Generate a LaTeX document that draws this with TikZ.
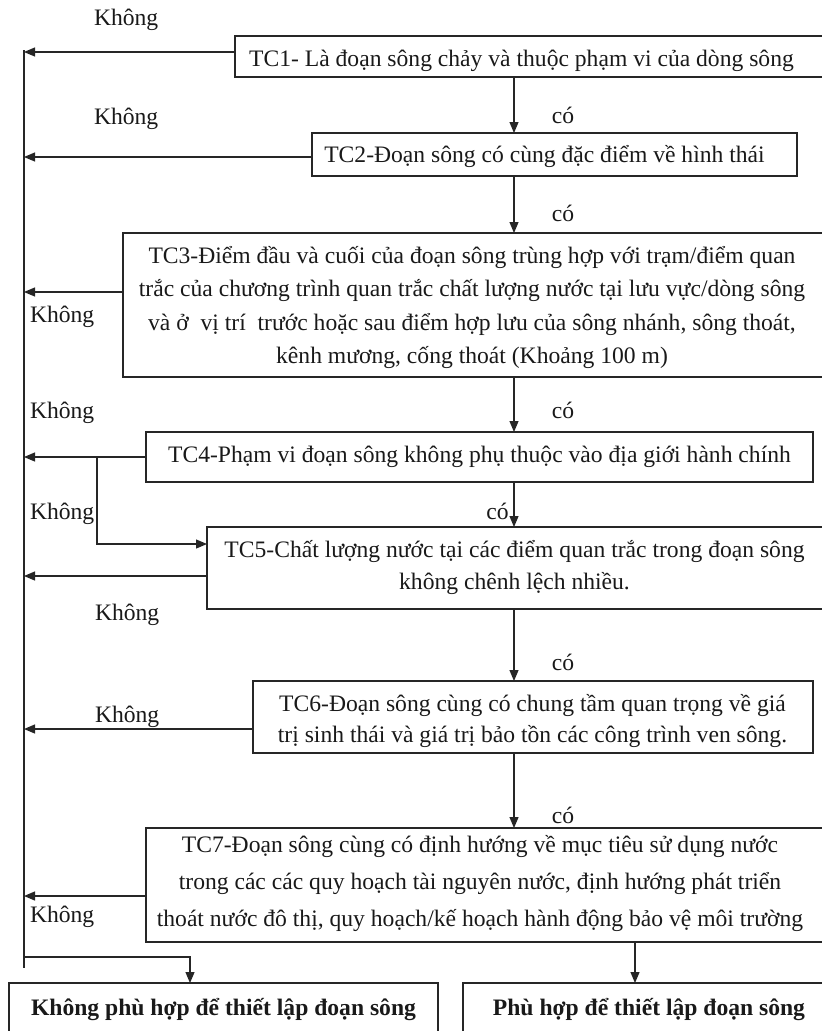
\documentclass[tikz,border=0pt]{standalone}
\usepackage{fontspec}
\setmainfont{Liberation Serif}
\usetikzlibrary{arrows.meta}
\tikzset{
  box/.style={draw=black!85, line width=1.3pt, rectangle, inner sep=0pt, outer sep=0pt, anchor=north west},
  txt/.style={font=\fontsize{23.6}{33.5}\selectfont, inner sep=0pt, outer sep=0pt, text=black!90},
  arr/.style={draw=black!85, line width=1.2pt, -{Triangle[length=11pt,width=9pt]}},
  ln/.style={draw=black!85, line width=1.3pt},
}
\begin{document}
\begin{tikzpicture}[x=1pt,y=-1pt]
\useasboundingbox (0,0) rectangle (822,1031);
% boxes
\node[box, minimum width=605pt, minimum height=41pt] (tc1) at (235,36) {};
\node[box, minimum width=485pt, minimum height=43pt] (tc2) at (312,133) {};
\node[box, minimum width=717pt, minimum height=144pt] (tc3) at (123,233) {};
\node[box, minimum width=667pt, minimum height=50pt] (tc4) at (146,432) {};
\node[box, minimum width=633pt, minimum height=82pt] (tc5) at (207,527) {};
\node[box, minimum width=560pt, minimum height=72pt] (tc6) at (253,681) {};
\node[box, minimum width=694pt, minimum height=114pt] (tc7) at (146,828) {};
\node[box, minimum width=429pt, minimum height=80pt] (nobox) at (9,983) {};
\node[box, minimum width=377pt, minimum height=80pt] (yesbox) at (463,983) {};
% box texts
\node[txt, anchor=base] (tc1t) at (521.5,66) {TC1- Là đoạn sông chảy và thuộc phạm vi của dòng sông};
\node[txt, anchor=base] (tc2t) at (544.5,162) {TC2-Đoạn sông có cùng đặc điểm về hình thái};
\node[txt, anchor=north, align=center, font=\fontsize{23.6}{33.5}\selectfont] (tc3t) at (472,239) {\rule{0pt}{24pt}TC3-Điểm đầu và cuối của đoạn sông trùng hợp với trạm/điểm quan\\trắc của chương trình quan trắc chất lượng nước tại lưu vực/dòng sông\\và ở~ vị trí~ trước hoặc sau điểm hợp lưu của sông nhánh, sông thoát,\\kênh mương, cống thoát (Khoảng 100 m)};
\node[txt, anchor=base] (tc4t) at (479.5,462) {TC4-Phạm vi đoạn sông không phụ thuộc vào địa giới hành chính};
\node[txt, anchor=north, align=center, font=\fontsize{23.6}{32}\selectfont] (tc5t) at (514.5,533) {\rule{0pt}{24pt}TC5-Chất lượng nước tại các điểm quan trắc trong đoạn sông\\không chênh lệch nhiều.};
\node[txt, anchor=north, align=center, font=\fontsize{23.6}{31}\selectfont] (tc6t) at (532.5,687) {\rule{0pt}{24pt}TC6-Đoạn sông cùng có chung tầm quan trọng về giá\\trị sinh thái và giá trị bảo tồn các công trình ven sông.};
\node[txt, anchor=north, align=center, font=\fontsize{23.6}{37}\selectfont] (tc7t) at (480,828) {\rule{0pt}{24pt}TC7-Đoạn sông cùng có định hướng về mục tiêu sử dụng nước\\trong các các quy hoạch tài nguyên nước, định hướng phát triển\\thoát nước đô thị, quy hoạch/kế hoạch hành động bảo vệ môi trường};
\node[txt, anchor=base, font=\fontsize{23.6}{28}\selectfont\bfseries] (nobt) at (223.5,1015) {Không phù hợp để thiết lập đoạn sông};
\node[txt, anchor=base, font=\fontsize{23.6}{28}\selectfont\bfseries] (yest) at (649,1015) {Phù hợp để thiết lập đoạn sông};
% labels
\node[txt, anchor=base] (co1) at (563,123) {có};
\node[txt, anchor=base] (co2) at (563,221) {có};
\node[txt, anchor=base] (co3) at (563,418) {có};
\node[txt, anchor=base] (co4) at (497.5,519) {có};
\node[txt, anchor=base] (co5) at (563,670) {có};
\node[txt, anchor=base] (co6) at (563,823) {có};
\node[txt, anchor=base west] (k1) at (94,25) {Không};
\node[txt, anchor=base west] (k2) at (94,124) {Không};
\node[txt, anchor=base west] (k3) at (30,322) {Không};
\node[txt, anchor=base west] (k4) at (30,418) {Không};
\node[txt, anchor=base west] (k5) at (30,519) {Không};
\node[txt, anchor=base west] (k6) at (95,620) {Không};
\node[txt, anchor=base west] (k7) at (95,722) {Không};
\node[txt, anchor=base west] (k8) at (30,922) {Không};
% coordinates
\coordinate (cx) at (514,0);
\coordinate (cy) at (635,0);
\coordinate (ltop) at (24,50);
\coordinate (lbot) at (24,968);
\coordinate (L1) at (24,52);
\coordinate (L2) at (24,157);
\coordinate (L3) at (24,292);
\coordinate (L4) at (24,457);
\coordinate (L5) at (24,576);
\coordinate (L6) at (24,729);
\coordinate (L7) at (24,896);
\coordinate (b1) at (97,457);
\coordinate (b2) at (97,544);
\coordinate (lb) at (24,957);
\coordinate (nb) at (190,957);
% main left line
\draw[ln] (ltop) -- (lbot);
% "no" arrows
\draw[arr] (tc1.west |- L1) -- (L1);
\draw[arr] (tc2.west |- L2) -- (L2);
\draw[arr] (tc3.west |- L3) -- (L3);
\draw[arr] (tc4.west |- L4) -- (L4);
\draw[arr] (tc5.west |- L5) -- (L5);
\draw[arr] (tc6.west |- L6) -- (L6);
\draw[arr] (tc7.west |- L7) -- (L7);
\draw[arr] (b1) -- (b2) -- (tc5.west |- b2);
\draw[arr] (lb) -- (nb) -- (nobox.north -| nb);
% "yes" arrows
\draw[arr] (tc1.south -| cx) -- (tc2.north -| cx);
\draw[arr] (tc2.south -| cx) -- (tc3.north -| cx);
\draw[arr] (tc3.south -| cx) -- (tc4.north -| cx);
\draw[arr] (tc4.south -| cx) -- (tc5.north -| cx);
\draw[arr] (tc5.south -| cx) -- (tc6.north -| cx);
\draw[arr] (tc6.south -| cx) -- (tc7.north -| cx);
\draw[arr] (tc7.south -| cy) -- (yesbox.north -| cy);
\end{tikzpicture}
\end{document}
